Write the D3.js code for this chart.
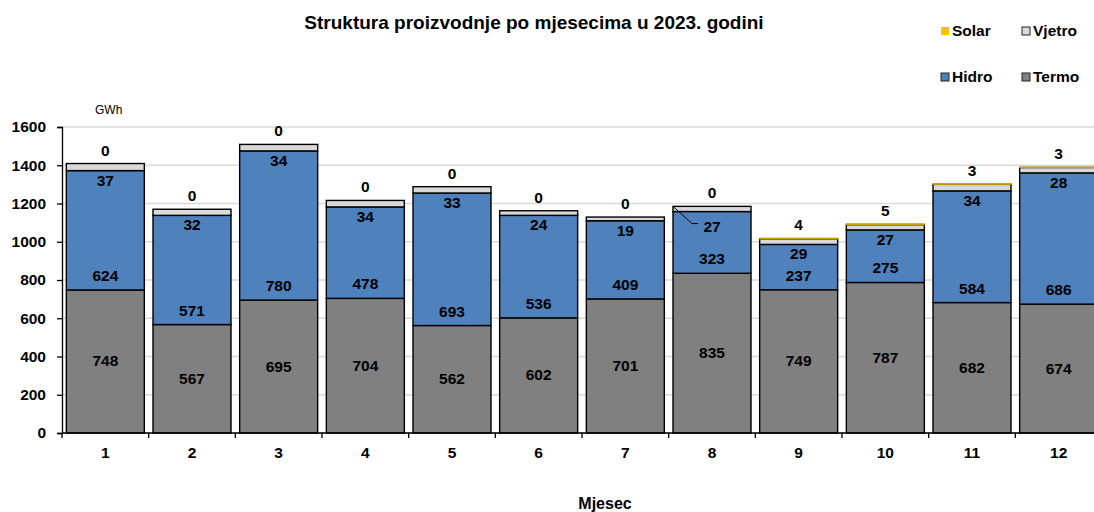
<!DOCTYPE html>
<html>
  <head>
    <title>Struktura proizvodnje po mjesecima u 2023. godini</title>
    <script src="https://d3js.org/d3.v7.min.js"></script>
    <style>
      body { margin: 0; background: #fff; }
      svg { font-family: "Liberation Sans", Arial, sans-serif; }
      .lbl { font-size: 15.5px; font-weight: bold; fill: #000; }
    </style>
  </head>
  <body>
    <script>
      var width = 1094;
      var height = 512;
      var margin = {top: 127, left: 62, right: -8, bottom: 79};

      // data
      var months = ["1","2","3","4","5","6","7","8","9","10","11","12"];
      var termo  = [748, 567, 695, 704, 562, 602, 701, 835, 749, 787, 682, 674];
      var hidro  = [624, 571, 780, 478, 693, 536, 409, 323, 237, 275, 584, 686];
      var vjetro = [37, 32, 34, 34, 33, 24, 19, 27, 29, 27, 34, 28];
      var solar  = [0, 0, 0, 0, 0, 0, 0, 0, 4, 5, 3, 3];
      var yTicks = [0, 200, 400, 600, 800, 1000, 1200, 1400, 1600];

      var seriesNames = ["Termo", "Hidro", "Vjetro", "Solar"];
      var colors = {Termo: "#808080", Hidro: "#4f81bd", Vjetro: "#d9d9d9", Solar: "#ffc000"};

      var rows = months.map(function(m, i) {
        return {month: m, Termo: termo[i], Hidro: hidro[i], Vjetro: vjetro[i], Solar: solar[i]};
      });

      var svg = d3.select("body")
        .append("svg")
        .attr("width", width)
        .attr("height", height);

      var xScale = d3.scaleBand()
        .domain(months)
        .range([margin.left, width - margin.right])
        .paddingInner(0.1)
        .paddingOuter(0.05);

      var yScale = d3.scaleLinear()
        .domain([0, 1600])
        .range([height - margin.bottom, margin.top]);

      // gridlines
      svg.append("g")
        .selectAll("line")
        .data(yTicks)
        .enter()
        .append("line")
          .attr("x1", margin.left)
          .attr("x2", width)
          .attr("y1", function(d) { return yScale(d); })
          .attr("y2", function(d) { return yScale(d); })
          .attr("stroke", "#d9d9d9")
          .attr("stroke-width", 1.3);

      var stack = d3.stack().keys(seriesNames)(rows);

      svg.append("g")
        .selectAll("g")
        .data(stack)
        .enter()
        .append("g")
          .attr("fill", function(s) { return colors[s.key]; })
        .selectAll("rect")
        .data(function(s) { return s.map(function(d) { d.key = s.key; return d; }); })
        .enter()
        .append("rect")
          .attr("x", function(d) { return xScale(d.data.month); })
          .attr("width", xScale.bandwidth())
          .attr("y", function(d) { return yScale(d[1]); })
          .attr("height", function(d) { return yScale(d[0]) - yScale(d[1]); })
          .attr("stroke", function(d) { return d.key == "Solar" ? "#c8a000" : "#000"; })
          .attr("stroke-width", function(d) { return d.key == "Solar" ? (d[1] > d[0] ? 1 : 0) : 1.4; });

      // axes
      var yAxis = svg.append("g")
        .attr("transform", `translate(${margin.left},0)`)
        .call(d3.axisLeft(yScale).tickValues(yTicks).tickFormat(d3.format("d")).tickSize(5).tickPadding(11));
      yAxis.select(".domain").attr("stroke", "#000").attr("stroke-width", 1.3);
      yAxis.selectAll(".tick line").attr("stroke", "#000").attr("stroke-width", 1.3);
      yAxis.selectAll("text").attr("class", "lbl").attr("font-family", null).attr("font-size", null);

      var baseY = yScale(0);
      svg.append("line")
        .attr("x1", margin.left).attr("x2", width)
        .attr("y1", baseY).attr("y2", baseY)
        .attr("stroke", "#000").attr("stroke-width", 1.3);

      var step = xScale.step();
      svg.append("g")
        .selectAll("line")
        .data(months)
        .enter()
        .append("line")
          .attr("x1", function(d) { return xScale(d) - step * 0.05; })
          .attr("x2", function(d) { return xScale(d) - step * 0.05; })
          .attr("y1", baseY)
          .attr("y2", baseY + 5)
          .attr("stroke", "#000")
          .attr("stroke-width", 1.3);

      svg.append("g")
        .selectAll("text")
        .data(months)
        .enter()
        .append("text")
          .attr("class", "lbl")
          .attr("x", function(d) { return xScale(d) + xScale.bandwidth() / 2; })
          .attr("y", baseY + 25)
          .attr("text-anchor", "middle")
          .text(function(d) { return d; });

      // data labels
      var cx = function(d) { return xScale(d.month) + xScale.bandwidth() / 2; };
      var labels = svg.append("g");

      labels.selectAll(".tl")
        .data(rows).enter().append("text")
        .attr("class", "lbl")
        .attr("x", cx)
        .attr("y", function(d) { return yScale(d.Termo / 2) + 5; })
        .attr("text-anchor", "middle")
        .text(function(d) { return d.Termo; });

      labels.selectAll(".hl")
        .data(rows).enter().append("text")
        .attr("class", "lbl")
        .attr("x", cx)
        .attr("y", function(d) { return yScale(d.Termo) - 9; })
        .attr("text-anchor", "middle")
        .text(function(d) { return d.Hidro; });

      labels.selectAll(".vl")
        .data(rows).enter().append("text")
        .attr("class", "lbl")
        .attr("x", cx)
        .attr("y", function(d, i) { return yScale(d.Termo + d.Hidro) + (i == 7 ? 20 : 15); })
        .attr("text-anchor", "middle")
        .text(function(d) { return d.Vjetro; });

      // leader line for month 8
      var r8 = rows[7];
      svg.append("polyline")
        .attr("points", [
          [xScale(r8.month), yScale(r8.Termo + r8.Hidro + r8.Vjetro)],
          [xScale(r8.month) + 19, yScale(r8.Termo + r8.Hidro) + 12],
          [cx(r8) - 14, yScale(r8.Termo + r8.Hidro) + 12]
        ].join(" "))
        .attr("fill", "none")
        .attr("stroke", "#000")
        .attr("stroke-width", 1);

      labels.selectAll(".sl")
        .data(rows).enter().append("text")
        .attr("class", "lbl")
        .attr("x", cx)
        .attr("y", function(d) { return yScale(d.Termo + d.Hidro + d.Vjetro + d.Solar) - 8; })
        .attr("text-anchor", "middle")
        .text(function(d) { return d.Solar; });

      // title and axis labels
      svg.append("text")
        .attr("x", 534)
        .attr("y", 29)
        .attr("text-anchor", "middle")
        .attr("font-size", "19px")
        .attr("font-weight", "bold")
        .text("Struktura proizvodnje po mjesecima u 2023. godini");

      svg.append("text")
        .attr("x", 95)
        .attr("y", 114)
        .attr("font-size", "12px")
        .text("GWh");

      svg.append("text")
        .attr("x", 605)
        .attr("y", 509)
        .attr("text-anchor", "middle")
        .attr("font-size", "16px")
        .attr("font-weight", "bold")
        .text("Mjesec");

      // legend
      var legendItems = [
        {name: "Solar", x: 941, y: 31},
        {name: "Vjetro", x: 1022, y: 31},
        {name: "Hidro", x: 941, y: 77},
        {name: "Termo", x: 1022, y: 77}
      ];
      var legend = svg.append("g")
        .selectAll("g")
        .data(legendItems)
        .enter()
        .append("g")
          .attr("transform", function(d) { return `translate(${d.x},${d.y})`; });
      legend.append("rect")
        .attr("x", 0).attr("y", -4)
        .attr("width", 8).attr("height", 8)
        .attr("fill", function(d) { return colors[d.name]; })
        .attr("stroke", function(d) { return d.name == "Solar" ? "none" : "#222"; })
        .attr("stroke-width", 1);
      legend.append("text")
        .attr("class", "lbl")
        .attr("x", 11)
        .attr("y", 5)
        .text(function(d) { return d.name; });
    </script>
  </body>
</html>
